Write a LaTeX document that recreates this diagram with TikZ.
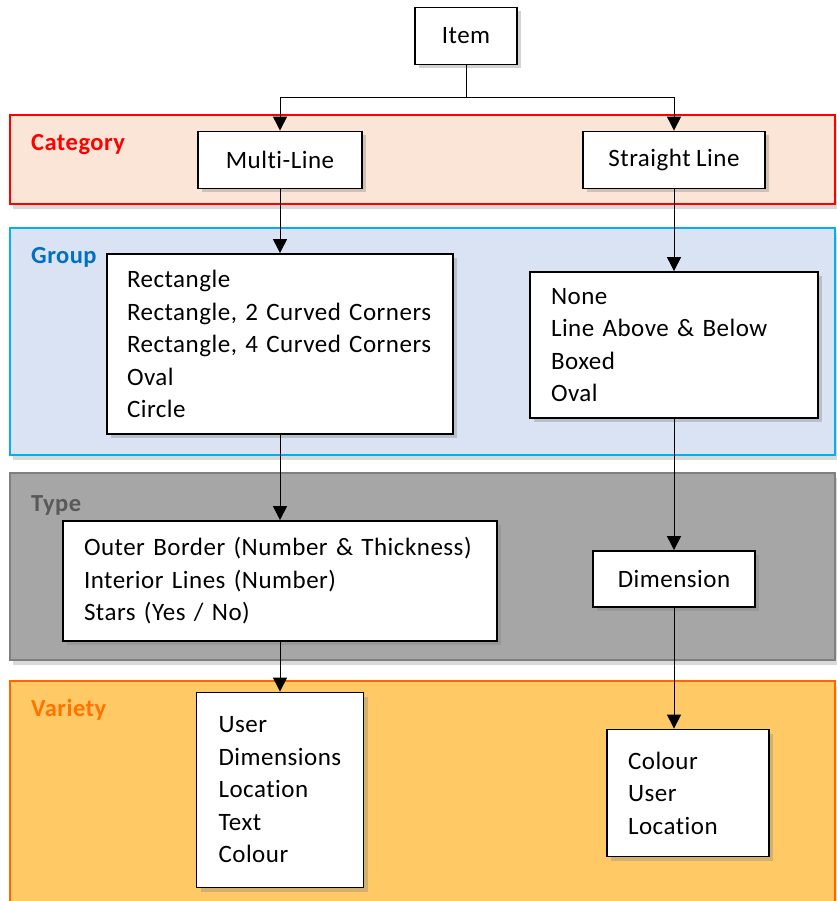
\documentclass[tikz,border=0pt]{standalone}
\usepackage{fontspec}
\setmainfont{Carlito}[LetterSpace=2, WordSpace=0.9, Ligatures={NoCommon}]
\usetikzlibrary{arrows.meta, shadows}
\definecolor{catred}{HTML}{FF0000}
\definecolor{catfill}{HTML}{FBE5D6}
\definecolor{grpline}{HTML}{00B0F0}
\definecolor{grpfill}{HTML}{DAE3F3}
\definecolor{grptext}{HTML}{0070C0}
\definecolor{typline}{HTML}{7F7F7F}
\definecolor{typfill}{HTML}{A6A6A6}
\definecolor{typtext}{HTML}{595959}
\definecolor{varline}{HTML}{FF6600}
\definecolor{varfill}{HTML}{FFCA66}
\definecolor{vartext}{HTML}{FF7300}

\begin{document}
\begin{tikzpicture}[x=1pt,y=1pt]
		\tikzstyle{box} = [draw=black, line width=1.8pt, fill=white, inner ysep=0pt, minimum height=57pt,
			drop shadow={shadow xshift=4pt, shadow yshift=-4pt, opacity=.35},
			font=\fontsize{25}{32.5}\selectfont]
		\tikzstyle{band} = [line width=2.5pt, drop shadow={shadow xshift=3pt, shadow yshift=-5pt, opacity=.3}]
		\tikzstyle{lbl} = [inner sep=0pt, anchor=base west, font=\fontsize{24.5}{28}\selectfont\bfseries]
		\tikzstyle{arr} = [line width=1pt, -{Triangle[length=14pt,width=14pt]}]
		\useasboundingbox (0,0) rectangle (836,-901);
		% bands
		\draw[band, draw=catred, fill=catfill] (10,-115) rectangle (835,-204);
		\draw[band, draw=grpline, fill=grpfill] (10,-228) rectangle (835,-455);
		\draw[band, draw=typline, fill=typfill] (10,-473) rectangle (835,-660);
		\draw[band, draw=varline, fill=varfill] (10,-681) rectangle (835,-920);
		\node[lbl, text=catred] (catlbl) at (31,-151) {Category};
		\node[lbl, text=grptext] (grplbl) at (31,-263) {Group};
		\node[lbl, text=typtext] (typlbl) at (31,-511) {Type};
		\node[lbl, text=vartext] (varlbl) at (31,-716) {Variety};
		% boxes
		\node[box, minimum width=102pt] (item) at (466,-36) {Item};
		\node[box, minimum width=164pt] (ml) at (280,-160) {Multi-Line};
		\node[box, minimum width=182pt] (sl) at (674,-160) {Straight Line};
		\node[box, align=left, inner xsep=20pt, text width=306pt, minimum height=180pt] (gml) at (280,-344)
			{Rectangle\\Rectangle, 2 Curved Corners\\Rectangle, 4 Curved Corners\\Oval\\Circle};
		\node[box, align=left, inner xsep=21pt, text width=246pt, minimum height=146pt] (gsl) at (674,-345)
			{None\\Line Above \& Below\\Boxed\\Oval};
		\node[box, align=left, inner xsep=21pt, text width=392pt, minimum height=120pt] (tml) at (280,-581)
			{Outer Border (Number \& Thickness)\\Interior Lines (Number)\\Stars (Yes / No)};
		\node[box, minimum width=162pt, minimum height=56pt] (dim) at (674,-579) {Dimension};
		\node[box, align=left, inner xsep=22pt, text width=123pt, minimum height=195pt] (vml) at (280,-790)
			{User\\Dimensions\\Location\\Text\\Colour};
		\node[box, align=left, inner xsep=21pt, text width=120pt, minimum height=127pt] (vsl) at (688,-793)
			{Colour\\User\\Location};
		% connectors
		\coordinate (split) at (466,-98);
		\draw[line width=1pt] (item.south) -- (split);
		\draw[arr] (split) -| (ml.north); \draw[arr] (split) -| (sl.north);
		\draw[arr] (ml.south) -- (gml.north); \draw[arr] (sl.south) -- (gsl.north);
		\draw[arr] (gml.south) -- (tml.north); \draw[arr] (gsl.south) -- (dim.north);
		\draw[arr] (tml.south) -- (vml.north); \draw[arr] (dim.south) -- (dim.south |- vsl.north);
\end{tikzpicture}
\end{document}
